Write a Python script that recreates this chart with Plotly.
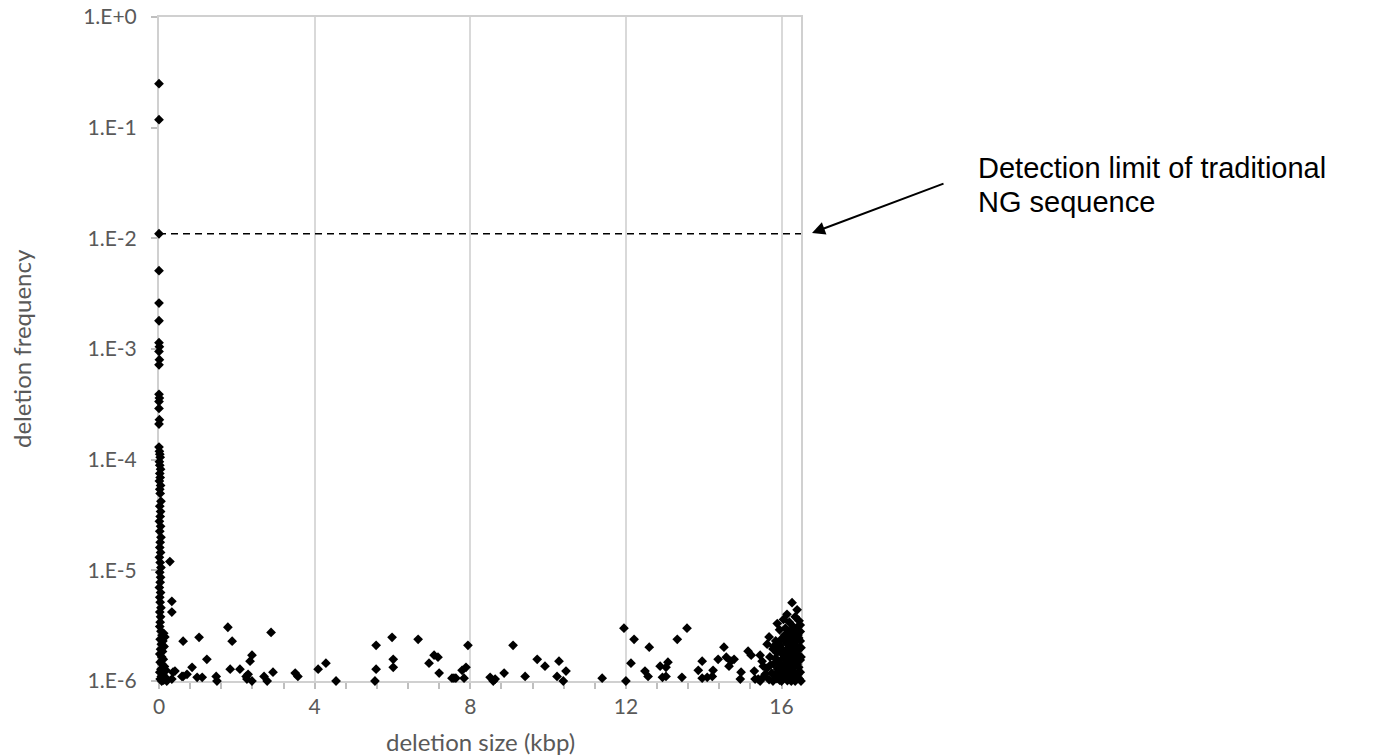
import plotly.graph_objects as go

# ---- data (deletion size in kbp, deletion frequency) ----
# short deletions (column near 0 kbp)
col_x = [0.0, 0.0, 0.0, 0.0, 0.0, 0.0, 0.0, 0.01, 0.0, 0.01, 0.0, 0.0, 0.01, 0.0, 0.0, 0.01, 0.0,
         0.0, 0.01, 0.02, 0.03, 0.01, 0.02, 0.04, 0.02, 0.03, 0.01, 0.04, 0.02, 0.03,
         0.05, 0.02, 0.04, 0.03, 0.01, 0.04, 0.02, 0.05, 0.03, 0.02, 0.04, 0.01, 0.03,
         0.05, 0.02, 0.04, 0.03, 0.01, 0.04, 0.02, 0.03, 0.05, 0.02, 0.04, 0.03, 0.02]
col_y = [0.25, 0.118, 0.011, 5.1e-3, 2.6e-3, 1.8e-3, 1.14e-3, 1.05e-3, 9.5e-4, 8.0e-4, 7.2e-4,
         3.9e-4, 3.6e-4, 3.35e-4, 2.9e-4, 2.3e-4, 2.1e-4, 1.3e-4, 1.19e-4, 1.12e-4, 1.05e-4,
         9.6e-5, 8.9e-5, 8.2e-5, 7.5e-5, 6.9e-5, 6.4e-5, 5.85e-5, 5.4e-5, 4.95e-5, 4.2e-5,
         3.8e-5, 3.4e-5, 3.07e-5, 2.77e-5, 2.5e-5, 2.25e-5, 1.99e-5, 1.79e-5, 1.61e-5, 1.45e-5,
         1.31e-5, 1.18e-5, 1.06e-5, 9.6e-6, 8.65e-6, 7.8e-6, 7.0e-6, 6.3e-6, 5.7e-6, 5.15e-6,
         4.6e-6, 4.2e-6, 3.8e-6, 3.4e-6, 3.1e-6]

# small deletions just above 0 kbp, low frequency
low_x = [0.28, 0.33, 0.33, 0.05, 0.12, 0.08, 0.15, 0.03, 0.10, 0.06, 0.13, 0.04, 0.09, 0.02,
         0.07, 0.11, 0.03, 0.08, 0.14, 0.05, 0.18, 0.02, 0.10, 0.06, 0.16, 0.03, 0.12, 0.07,
         0.20, 0.41, 0.59]
low_y = [1.2e-5, 5.25e-6, 4.2e-6, 2.82e-6, 2.7e-6, 2.59e-6, 2.5e-6, 2.38e-6, 2.3e-6, 2.15e-6,
         2.05e-6, 1.94e-6, 1.85e-6, 1.75e-6, 1.65e-6, 1.57e-6, 1.48e-6, 1.42e-6, 1.35e-6,
         1.28e-6, 1.25e-6, 1.2e-6, 1.15e-6, 1.1e-6, 1.08e-6, 1.04e-6, 1.02e-6, 1.0e-6,
         1.0e-6, 1.23e-6, 1.1e-6]

# scattered mid-size deletions
mid_x = [0.62, 1.03, 1.23, 1.77, 1.88, 1.83, 2.08, 2.34, 2.39, 2.88, 2.93, 3.50, 3.57, 4.09,
         4.29, 4.55, 5.58, 5.58, 5.55, 5.99, 6.02, 6.02, 6.66, 0.36, 0.33, 0.62, 0.85, 0.72,
         0.98, 1.11, 1.47, 1.49, 2.24, 2.26, 2.29, 2.39, 2.70, 2.78,
         6.94, 7.07, 7.17, 7.20, 7.53, 7.58, 7.63, 7.84, 7.79, 7.89, 7.94, 8.51, 8.59, 8.64,
         8.87, 9.10, 9.41, 9.72, 9.92, 10.28, 10.23, 10.46, 10.39, 11.39, 11.95, 12.21, 12.13,
         12.0, 12.49, 12.57, 12.60, 12.88, 13.08, 13.03, 12.94, 13.03, 13.32, 13.57, 13.44,
         13.86, 13.96, 13.96, 14.09, 14.22, 14.24, 14.37, 14.52, 14.58, 14.70, 14.65, 14.78,
         14.96, 14.94, 15.14, 15.22, 15.30, 15.32, 15.45, 15.50, 15.53]
mid_y = [2.29e-6, 2.48e-6, 1.57e-6, 3.06e-6, 2.29e-6, 1.28e-6, 1.28e-6, 1.51e-6, 1.71e-6,
         2.75e-6, 1.2e-6, 1.18e-6, 1.1e-6, 1.28e-6, 1.45e-6, 1.0e-6, 2.1e-6, 1.28e-6, 1.0e-6,
         2.48e-6, 1.57e-6, 1.33e-6, 2.38e-6, 1.2e-6, 1.04e-6, 1.1e-6, 1.33e-6, 1.15e-6,
         1.08e-6, 1.08e-6, 1.1e-6, 1.0e-6, 1.1e-6, 1.04e-6, 1.15e-6, 1.0e-6, 1.1e-6, 1.0e-6,
         1.45e-6, 1.71e-6, 1.64e-6, 1.18e-6, 1.06e-6, 1.06e-6, 1.06e-6, 1.06e-6, 1.25e-6,
         1.33e-6, 2.1e-6, 1.08e-6, 1.0e-6, 1.04e-6, 1.18e-6, 2.1e-6, 1.1e-6, 1.57e-6, 1.36e-6,
         1.51e-6, 1.1e-6, 1.23e-6, 1.0e-6, 1.06e-6, 3.0e-6, 2.38e-6, 1.45e-6, 1.0e-6, 1.23e-6,
         1.1e-6, 2.02e-6, 1.36e-6, 1.48e-6, 1.33e-6, 1.08e-6, 1.1e-6, 2.38e-6, 3.0e-6, 1.08e-6,
         1.25e-6, 1.51e-6, 1.06e-6, 1.08e-6, 1.1e-6, 1.25e-6, 1.57e-6, 2.02e-6, 1.64e-6,
         1.51e-6, 1.36e-6, 1.57e-6, 1.2e-6, 1.04e-6, 1.86e-6, 1.71e-6, 1.23e-6, 1.04e-6,
         1.71e-6, 1.51e-6, 1.36e-6]

# large deletions (dense cluster near 16 kbp)
cl_x = [16.27, 16.40, 16.35, 16.14, 15.89, 15.68, 15.63, 16.05, 16.20, 16.45, 16.30, 16.10,
        16.38, 16.48, 15.95, 16.22, 16.15, 16.42, 16.32, 16.05, 15.85, 16.25, 16.48, 16.12,
        15.95, 16.36, 16.20, 15.78, 16.45, 16.02, 16.30, 15.88, 16.15, 16.40, 15.70, 16.05,
        16.25, 16.48, 15.92, 16.12, 16.35, 15.80, 16.00, 16.22, 16.44, 15.62, 15.90, 16.10,
        16.30, 16.48, 15.75, 15.98, 16.18, 16.38, 15.55, 15.85, 16.05, 16.26, 16.45, 15.68,
        15.95, 16.15, 16.35, 15.45, 15.78, 16.50, 16.00, 16.25, 15.58, 15.40,
        15.92, 16.08, 16.18, 16.28, 16.40, 16.50, 16.02, 16.12, 16.24, 16.34, 16.44, 16.08,
        16.20, 16.30, 16.42, 15.84, 15.98, 16.18, 16.50, 16.38, 16.28, 16.10, 15.88, 16.42,
        16.20, 15.72, 16.00, 16.34, 16.48, 15.80]
cl_y = [5.1e-6, 4.4e-6, 3.8e-6, 4.0e-6, 3.3e-6, 2.5e-6, 2.15e-6, 3.6e-6, 3.4e-6, 3.5e-6,
        3.1e-6, 3.0e-6, 2.9e-6, 3.2e-6, 2.9e-6, 2.8e-6, 2.6e-6, 2.6e-6, 2.55e-6, 2.45e-6,
        2.3e-6, 2.35e-6, 2.3e-6, 2.2e-6, 2.1e-6, 2.1e-6, 2.0e-6, 1.95e-6, 1.95e-6, 1.9e-6,
        1.85e-6, 1.8e-6, 1.75e-6, 1.7e-6, 1.65e-6, 1.62e-6, 1.6e-6, 1.55e-6, 1.52e-6, 1.48e-6,
        1.45e-6, 1.42e-6, 1.38e-6, 1.35e-6, 1.33e-6, 1.3e-6, 1.28e-6, 1.25e-6, 1.23e-6, 1.2e-6,
        1.18e-6, 1.16e-6, 1.14e-6, 1.12e-6, 1.1e-6, 1.09e-6, 1.07e-6, 1.06e-6, 1.05e-6, 1.03e-6,
        1.02e-6, 1.01e-6, 1.0e-6, 1.0e-6, 1.0e-6, 1.0e-6, 1.0e-6, 1.0e-6, 1.15e-6, 1.04e-6,
        1.22e-6, 1.32e-6, 1.45e-6, 1.55e-6, 1.42e-6, 1.65e-6, 1.75e-6, 1.9e-6, 2.05e-6, 2.25e-6,
        2.45e-6, 2.6e-6, 2.75e-6, 2.95e-6, 3.1e-6, 1.6e-6, 2.0e-6, 2.3e-6, 2.0e-6, 1.8e-6,
        1.3e-6, 1.12e-6, 1.05e-6, 1.15e-6, 1.65e-6, 1.4e-6, 2.4e-6, 2.7e-6, 2.8e-6, 2.05e-6]

DETECTION_LIMIT = 0.011
X_MAX = 16.5
y_tickvals = [1, 1e-1, 1e-2, 1e-3, 1e-4, 1e-5, 1e-6]
y_ticktext = ["1.E+0", "1.E-1", "1.E-2", "1.E-3", "1.E-4", "1.E-5", "1.E-6"]
x_tickvals = [0, 4, 8, 12, 16]

all_x = col_x + low_x + mid_x + cl_x
all_y = col_y + low_y + mid_y + cl_y

GRAY = "#595959"
LINE = "#d0d0d0"
TICKFONT = dict(family="Lato", size=21, color=GRAY)

W, H = 1388, 756
L, R, T, B = 159, 587, 17, 75
PW, PH = W - L - R, H - T - B


def px_x(px):
    return (px - L) / PW


def px_y(py):
    return (H - B - py) / PH


fig = go.Figure()
# detection limit dashed line
fig.add_trace(go.Scatter(
    x=[0, X_MAX], y=[DETECTION_LIMIT, DETECTION_LIMIT], mode="lines",
    line=dict(color="black", width=1.5, dash="7px,5px"), showlegend=False, hoverinfo="skip"))
fig.add_trace(go.Scatter(
    x=all_x, y=all_y, mode="markers",
    marker=dict(symbol="diamond", size=7.5, color="black", line=dict(width=0)),
    cliponaxis=False, showlegend=False, hoverinfo="x+y"))

fig.update_xaxes(
    range=[0, X_MAX], tickvals=x_tickvals, ticks="outside", ticklen=6, tickwidth=1.5,
    tickcolor="#bfbfbf", showline=True, linecolor=LINE, linewidth=2, mirror=True,
    showgrid=True, gridcolor="#d9d9d9", gridwidth=2, zeroline=False, automargin=False,
    tickfont=TICKFONT, layer="below traces", ticklabeloverflow="allow",
    minor=dict(dtick=0.8, tick0=0, ticks="outside", ticklen=6, tickwidth=1.5, tickcolor="#bfbfbf", showgrid=False))
fig.update_yaxes(
    type="log", range=[-6, 0], tickvals=y_tickvals, ticktext=y_ticktext, ticks="outside",
    ticklen=6, tickwidth=1.5, tickcolor="#bfbfbf", showline=True, linecolor=LINE, linewidth=2,
    mirror=True, showgrid=False, zeroline=False, tickfont=TICKFONT, ticklabelstandoff=10,
    automargin=False, layer="below traces", ticklabeloverflow="allow")

fig.update_layout(
    width=W, height=H, plot_bgcolor="white", paper_bgcolor="white",
    margin=dict(l=L, r=R, t=T, b=B),
    annotations=[
        dict(text="deletion frequency", xref="paper", yref="paper", x=px_x(21), y=px_y(349),
             xanchor="center", yanchor="middle",
             textangle=-90, showarrow=False, font=dict(family="Lato", size=24, color=GRAY)),
        dict(text="deletion size (kbp)", xref="paper", yref="paper", x=px_x(480), y=px_y(741),
             xanchor="center", yanchor="middle",
             showarrow=False, font=dict(family="Lato", size=24, color=GRAY)),
        dict(text=" ", xref="paper", yref="paper", x=px_x(812), y=px_y(233), showarrow=True,
             ax=133, ay=-50, arrowhead=2, arrowsize=1.3, arrowwidth=2, arrowcolor="black",
             font=dict(size=1)),
        dict(text="Detection limit of traditional", xref="paper", yref="paper",
             x=px_x(976), y=px_y(168), xanchor="left", yanchor="middle", align="left",
             showarrow=False, font=dict(family="Liberation Sans", size=29, color="black")),
        dict(text="NG sequence", xref="paper", yref="paper",
             x=px_x(976), y=px_y(202), xanchor="left", yanchor="middle", align="left",
             showarrow=False, font=dict(family="Liberation Sans", size=29, color="black")),
    ])

fig.write_html("out.html", config={"displayModeBar": False},
               post_script="document.body.style.margin='0px';")
